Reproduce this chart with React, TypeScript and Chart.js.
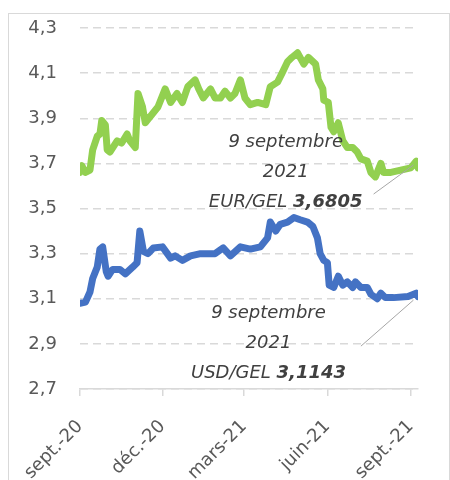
import React, { useEffect, useRef } from "react";
import { Chart, registerables } from "chart.js";

Chart.register(...registerables);

// x values are days since 1 September 2020
const monthTickDays = [0, 91, 181, 273, 365];
const monthTickLabels = ["sept.-20", "déc.-20", "mars-21", "juin-21", "sept.-21"];
const yTickValues = [2.7, 2.9, 3.1, 3.3, 3.5, 3.7, 3.9, 4.1, 4.3];

const eurDays = [0, 2, 6, 11, 14, 19, 22, 24, 28, 30, 33, 41, 46, 52, 55, 61, 64, 69, 72, 80, 86, 94, 100, 107, 113, 119, 127, 131, 136, 144, 149, 155, 160, 166, 171, 177, 182, 188, 196, 205, 210, 218, 223, 229, 234, 240, 247, 252, 260, 263, 268, 269, 274, 277, 280, 285, 290, 295, 301, 306, 310, 317, 321, 326, 332, 335, 343, 354, 365, 371, 373];
const eurValues = [3.66, 3.69, 3.66, 3.67, 3.76, 3.82, 3.83, 3.89, 3.87, 3.76, 3.75, 3.8, 3.79, 3.83, 3.8, 3.77, 4.01, 3.95, 3.88, 3.92, 3.95, 4.03, 3.97, 4.01, 3.97, 4.04, 4.07, 4.03, 3.99, 4.03, 3.99, 3.99, 4.02, 3.99, 4.01, 4.07, 3.99, 3.96, 3.97, 3.96, 4.04, 4.06, 4.1, 4.15, 4.17, 4.19, 4.14, 4.17, 4.14, 4.07, 4.03, 3.98, 3.97, 3.86, 3.84, 3.88, 3.8, 3.77, 3.77, 3.75, 3.72, 3.71, 3.66, 3.64, 3.7, 3.66, 3.66, 3.67, 3.68, 3.71, 3.68];

const usdDays = [0, 6, 11, 14, 19, 22, 25, 29, 31, 36, 44, 50, 58, 63, 66, 70, 75, 81, 91, 100, 105, 113, 122, 133, 144, 149, 158, 166, 177, 188, 199, 207, 210, 216, 221, 229, 236, 243, 251, 257, 262, 265, 269, 273, 275, 280, 285, 290, 295, 301, 304, 310, 317, 321, 328, 332, 337, 346, 362, 371, 373];
const usdValues = [3.08, 3.085, 3.13, 3.19, 3.24, 3.32, 3.33, 3.22, 3.2, 3.23, 3.23, 3.21, 3.24, 3.26, 3.4, 3.31, 3.3, 3.325, 3.33, 3.28, 3.29, 3.27, 3.29, 3.3, 3.3, 3.3, 3.325, 3.29, 3.33, 3.32, 3.33, 3.37, 3.44, 3.4, 3.43, 3.44, 3.46, 3.45, 3.44, 3.42, 3.37, 3.3, 3.27, 3.26, 3.16, 3.15, 3.2, 3.16, 3.175, 3.15, 3.175, 3.15, 3.15, 3.12, 3.1, 3.125, 3.105, 3.105, 3.11, 3.125, 3.11];

const noteDateLines = ["9 septembre", "2021"];
const noteLabels = ["EUR/GEL ", "USD/GEL "];
const noteValues = ["3,6805", "3,1143"];

const FONT = '"DejaVu Sans", sans-serif';

const notesPlugin = {
  id: "notes",
  afterDatasetsDraw(chart: any) {
    const { ctx } = chart;
    const x = chart.scales.x;
    const y = chart.scales.y;
    // placement of each note in data units: centre day, middle-line value, leader from/to
    const placements = [
      { cx: 227, cy: 3.662, from: [324, 3.564], to: [368, 3.693] },
      { cx: 208, cy: 2.904, from: [310, 2.89], to: [368, 3.094] },
    ];
    ctx.save();
    placements.forEach((p, i) => {
      const px = x.getPixelForValue(p.cx);
      const py = y.getPixelForValue(p.cy);
      const lh = 30;
      ctx.fillStyle = "#404040";
      ctx.textBaseline = "middle";
      ctx.textAlign = "center";
      ctx.font = `italic 18px ${FONT}`;
      ctx.fillText(noteDateLines[0], px, py - lh);
      ctx.fillText(noteDateLines[1], px, py);
      ctx.textAlign = "left";
      const lbl = noteLabels[i];
      const val = noteValues[i];
      ctx.font = `italic 18px ${FONT}`;
      const w1 = ctx.measureText(lbl).width;
      ctx.font = `italic bold 18px ${FONT}`;
      const w2 = ctx.measureText(val).width;
      const sx = px - (w1 + w2) / 2;
      ctx.font = `italic 18px ${FONT}`;
      ctx.fillText(lbl, sx, py + lh);
      ctx.font = `italic bold 18px ${FONT}`;
      ctx.fillText(val, sx + w1, py + lh);
      ctx.strokeStyle = "#a6a6a6";
      ctx.lineWidth = 1;
      ctx.beginPath();
      ctx.moveTo(x.getPixelForValue(p.from[0]), y.getPixelForValue(p.from[1]));
      ctx.lineTo(x.getPixelForValue(p.to[0]), y.getPixelForValue(p.to[1]));
      ctx.stroke();
    });
    ctx.restore();
  },
};

export default function App() {
  const ref = useRef<HTMLCanvasElement | null>(null);
  useEffect(() => {
    if (!ref.current) return;
    const chart = new Chart(ref.current, {
      type: "line",
      data: {
        datasets: [
          {
            label: "EUR/GEL",
            data: eurDays.map((d, i) => ({ x: d, y: eurValues[i] })),
            borderColor: "#92D050",
            borderWidth: 7,
            pointRadius: 0,
            tension: 0,
            borderJoinStyle: "round",
            borderCapStyle: "round",
          },
          {
            label: "USD/GEL",
            data: usdDays.map((d, i) => ({ x: d, y: usdValues[i] })),
            borderColor: "#4472C4",
            borderWidth: 7,
            pointRadius: 0,
            tension: 0,
            borderJoinStyle: "round",
            borderCapStyle: "round",
          },
        ],
      },
      options: {
        animation: false,
        responsive: false,
        devicePixelRatio: 1,
        layout: { padding: { left: 0, right: 31, top: 14, bottom: 0 } },
        plugins: { legend: { display: false }, tooltip: { enabled: false } },
        scales: {
          x: {
            type: "linear",
            min: 0,
            max: 373,
            afterBuildTicks: (s: any) => {
              s.ticks = monthTickDays.map((v) => ({ value: v }));
            },
            afterFit: (s: any) => {
              s.height = 91;
              s.paddingLeft = 0;
              s.paddingRight = 0;
              s.paddingTop = 0;
              s.paddingBottom = 0;
            },
            ticks: {
              autoSkip: false,
              minRotation: 45,
              maxRotation: 45,
              padding: 20,
              color: "#595959",
              font: { family: FONT, size: 18 },
              callback: (_v: any, i: number) => monthTickLabels[i],
            },
            grid: {
              display: true,
              drawOnChartArea: false,
              drawTicks: true,
              tickLength: 7,
              color: "#d9d9d9",
              lineWidth: 1.5,
            },
            border: { display: true, color: "#d9d9d9", width: 1.5 },
          },
          y: {
            min: 2.7,
            max: 4.3,
            afterBuildTicks: (s: any) => {
              s.ticks = yTickValues.map((v) => ({ value: v }));
            },
            afterFit: (s: any) => {
              s.width = 71;
              s.paddingTop = 0;
              s.paddingBottom = 0;
              s.paddingLeft = 0;
              s.paddingRight = 0;
            },
            ticks: {
              padding: 23,
              color: "#595959",
              font: { family: FONT, size: 18 },
              callback: (v: any) => Number(v).toFixed(1).replace(".", ","),
            },
            grid: {
              color: "#d9d9d9",
              lineWidth: 1.5,
              drawTicks: false,
            },
            border: { display: false, dash: [8, 5] },
          },
        },
      },
      plugins: [notesPlugin],
    });
    return () => chart.destroy();
  }, []);

  return (
    <div
      style={{
        position: "fixed",
        left: 8,
        top: 13,
        width: 440,
        height: 480,
        border: "1px solid #d9d9d9",
        background: "#fff",
      }}
    >
      <canvas ref={ref} width={440} height={466} style={{ display: "block" }} />
    </div>
  );
}
